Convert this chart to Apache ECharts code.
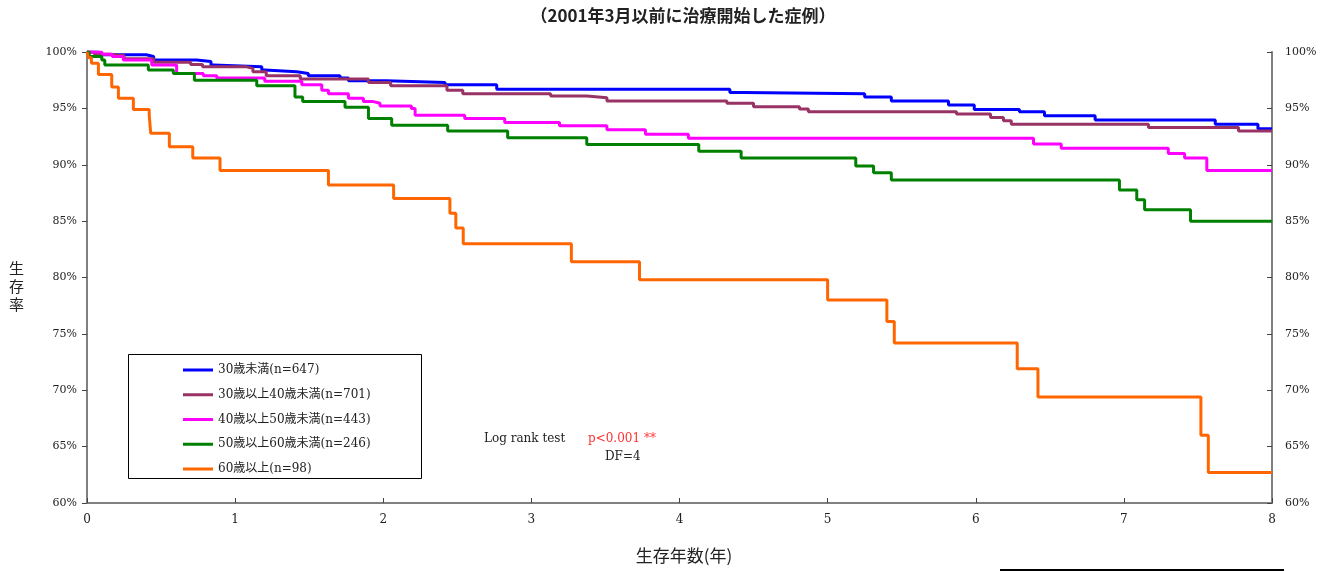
<!DOCTYPE html>
<html><head><meta charset="utf-8">
<script src="https://cdn.jsdelivr.net/npm/echarts@6/dist/echarts.min.js"></script>
<style>html,body{margin:0;padding:0;background:#fff;}#c{width:1330px;height:572px;}</style>
</head><body><div id="c"></div>
<script>
// ---- data ----
const seriesNames = ['30歳未満(n=647)','30歳以上40歳未満(n=701)','40歳以上50歳未満(n=443)','50歳以上60歳未満(n=246)','60歳以上(n=98)'];
const xTicks = [0,1,2,3,4,5,6,7,8];
const yTickLabels = ['60%','65%','70%','75%','80%','85%','90%','95%','100%'];

const g1Time = [0,0.08,0.40,0.45,0.74,0.837,0.853,1.18,1.20,1.416,1.494,1.708,1.765,2.02,2.417,2.766,4.34,4.427,5.25,5.43,5.816,5.99,6.295,6.464,6.806,7.617,7.905,8];
const g1Surv = [100,99.75,99.6,99.3,99.15,98.85,98.7,98.4,98.25,98.1,97.9,97.7,97.45,97.3,97.1,96.7,96.4,96.3,96.0,95.65,95.3,94.9,94.7,94.35,93.97,93.6,93.2,93.2];

const g2Time = [0,0.05,0.15,0.25,0.45,0.70,0.78,1.07,1.12,1.21,1.44,1.90,2.05,2.43,2.537,3.13,3.374,3.51,4.32,4.50,4.81,4.87,5.87,6.10,6.187,6.24,7.166,7.774,8];
const g2Surv = [100,99.8,99.7,99.4,99.1,98.9,98.7,98.55,98.25,97.9,97.6,97.3,97.0,96.6,96.3,96.1,95.95,95.65,95.45,95.15,94.95,94.7,94.5,94.2,93.9,93.6,93.3,93.0,93.0];

const g3Time = [0,0.10,0.17,0.245,0.437,0.605,0.785,0.876,1.20,1.45,1.585,1.63,1.765,1.866,1.933,1.978,2.19,2.215,2.55,2.82,3.19,3.51,3.77,4.06,6.39,6.577,7.30,7.41,7.56,8];
const g3Surv = [100,99.8,99.6,99.3,98.85,98.1,97.9,97.7,97.4,97.1,96.6,96.3,95.9,95.6,95.45,95.2,95.0,94.4,94.1,93.75,93.45,93.1,92.7,92.35,91.85,91.46,91.0,90.6,89.5,89.5];

const g4Time = [0,0.015,0.10,0.12,0.414,0.583,0.725,1.146,1.404,1.456,1.742,1.90,2.057,2.435,2.84,3.374,4.13,4.416,5.19,5.31,5.43,6.97,7.087,7.14,7.45,8];
const g4Surv = [100,99.6,99.3,98.85,98.4,98.1,97.5,97.0,96.0,95.6,95.1,94.1,93.5,93.0,92.4,91.8,91.2,90.6,89.9,89.3,88.65,87.76,86.9,86.0,85.0,85.0];

const g5Time = [0,0.01,0.03,0.077,0.167,0.212,0.313,0.42,0.43,0.556,0.714,0.898,1.63,2.07,2.45,2.49,2.54,3.27,3.73,5.0,5.40,5.45,6.28,6.42,7.52,7.57,8];
const g5Surv = [100,99.5,99.0,98.0,96.9,95.9,94.9,94.4,92.8,91.6,90.6,89.5,88.2,87.0,85.7,84.4,83.0,81.4,79.8,78.0,76.1,74.2,71.9,69.4,66.0,62.7,62.7];

const colors = ['#0000FF','#993366','#FF00FF','#008000','#FF6600'];
// ---- build ----
const groups = [[g1Time,g1Surv],[g2Time,g2Surv],[g3Time,g3Surv],[g4Time,g4Surv],[g5Time,g5Surv]];
const serif = "'DejaVu Serif','Noto Sans CJK JP',serif";
const cjk = "'Noto Sans CJK JP',sans-serif";
const chart = echarts.init(document.getElementById('c'), null, {renderer:'canvas'});
const yAxisCommon = {
  type:'value', min:60, max:100, interval:5,
  axisLine:{show:true, lineStyle:{color:'#808080', width:2}},
  splitLine:{show:false},
  axisLabel:{formatter:(v)=>yTickLabels[(v-60)/5], fontFamily:serif, fontSize:11, color:'#222'}
};
chart.setOption({
  animation:false,
  color:colors,
  grid:{left:87, right:58, top:52, bottom:69, containLabel:false},
  legend:{orient:'vertical', left:183, top:364, padding:0, itemWidth:30, itemHeight:3, itemGap:12.75, icon:'rect',
    data:seriesNames, textStyle:{fontFamily:serif, fontSize:12, color:'#222'}, selectedMode:false},
  xAxis:{type:'value', min:0, max:8, interval:1,
    axisLine:{lineStyle:{color:'#808080', width:2}},
    axisTick:{inside:true, length:5, lineStyle:{color:'#444'}},
    splitLine:{show:false},
    axisLabel:{formatter:(v)=>String(xTicks[v]), fontFamily:serif, fontSize:12, color:'#222', margin:11}},
  yAxis:[
    Object.assign({}, yAxisCommon, {position:'left', axisTick:{show:true, inside:false, length:5, lineStyle:{color:'#444'}}, axisLabel:Object.assign({}, yAxisCommon.axisLabel, {margin:10})}),
    Object.assign({}, yAxisCommon, {position:'right', axisTick:{show:true, inside:true, length:5, lineStyle:{color:'#444'}}, axisLabel:Object.assign({}, yAxisCommon.axisLabel, {margin:13})})
  ],
  series: groups.map((g,i)=>({
    name:seriesNames[i], type:'line', step:'end', showSymbol:false, symbol:'none',
    data:g[0].map((t,j)=>[t,g[1][j]]),
    lineStyle:{width:3, color:colors[i]}, itemStyle:{color:colors[i]},
    z: 2 + i
  })),
  graphic:[
    {type:'text', x:683, y:16, style:{text:'（2001年3月以前に治療開始した症例）', font:"bold 17px 'Noto Sans CJK JP'", fill:'#222', textAlign:'center', textVerticalAlign:'middle'}},
    {type:'rect', shape:{x:128.5, y:354.5, width:293, height:124}, style:{fill:'none', stroke:'#000', lineWidth:1}, z:-1},
    {type:'text', left:9, top:259, style:{text:'生\n存\n率', font:"15px 'Noto Sans CJK JP'", fill:'#222', lineHeight:18}},
    {type:'text', x:684, y:556, style:{text:'生存年数(年)', font:"17px 'Noto Sans CJK JP'", fill:'#222', textAlign:'center', textVerticalAlign:'middle'}},
    {type:'text', x:484, y:439, style:{text:'Log rank test', font:"12px 'DejaVu Serif'", fill:'#222', textVerticalAlign:'middle'}},
    {type:'text', x:588, y:439, style:{text:'p<0.001 **', font:"12px 'DejaVu Serif'", fill:'#FF3333', textVerticalAlign:'middle'}},
    {type:'text', x:605, y:457, style:{text:'DF=4', font:"12px 'DejaVu Serif'", fill:'#222', textVerticalAlign:'middle'}},
    {type:'line', shape:{x1:1000, y1:570, x2:1284, y2:570}, style:{stroke:'#000', lineWidth:2}}
  ]
});
</script></body></html>
